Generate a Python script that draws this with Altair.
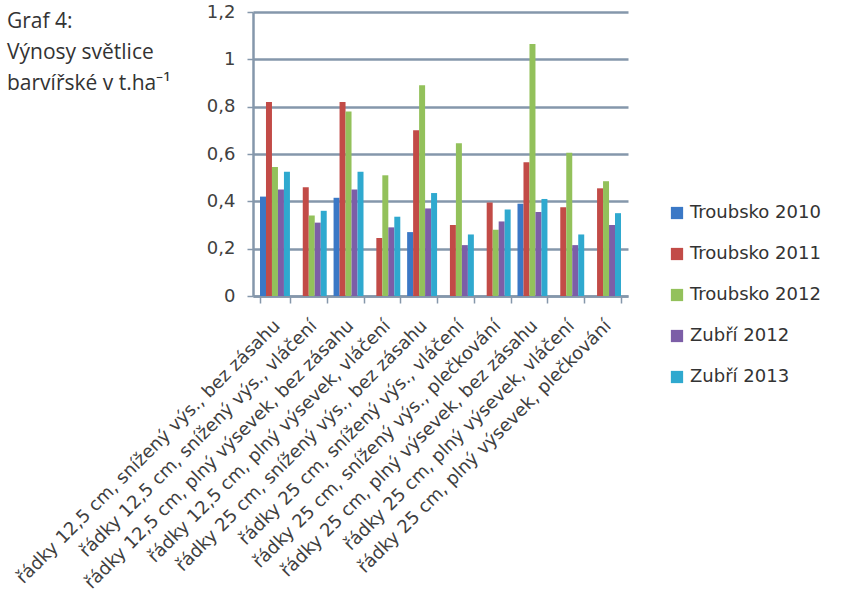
import altair as alt
import pandas as pd

# Treatments (x categories)
categories = [
    "řádky 12,5 cm, snížený výs., bez zásahu",
    "řádky 12,5 cm, snížený výs., vláčení",
    "řádky 12,5 cm, plný výsevek, bez zásahu",
    "řádky 12,5 cm, plný výsevek, vláčení",
    "řádky 25 cm, snížený výs., bez zásahu",
    "řádky 25 cm, snížený výs., vláčení",
    "řádky 25 cm, snížený výs., plečkování",
    "řádky 25 cm, plný výsevek, bez zásahu",
    "řádky 25 cm, plný výsevek, vláčení",
    "řádky 25 cm, plný výsevek, plečkování",
]

series_names = ["Troubsko 2010", "Troubsko 2011", "Troubsko 2012", "Zubří 2012", "Zubří 2013"]
series_colors = ["#3a78c6", "#c24b47", "#93c15b", "#7c5ea7", "#2fa9cf"]

# Yields in t/ha (None = not measured)
troubsko_2010 = [0.42, None, 0.415, None, 0.27, None, None, 0.39, None, None]
troubsko_2011 = [0.82, 0.46, 0.82, 0.245, 0.70, 0.30, 0.395, 0.565, 0.375, 0.455]
troubsko_2012 = [0.545, 0.34, 0.78, 0.51, 0.89, 0.645, 0.28, 1.065, 0.605, 0.485]
zubri_2012 = [0.45, 0.31, 0.45, 0.29, 0.37, 0.215, 0.315, 0.355, 0.215, 0.30]
zubri_2013 = [0.525, 0.36, 0.525, 0.335, 0.435, 0.26, 0.365, 0.41, 0.26, 0.35]

y_ticks = [0, 0.2, 0.4, 0.6, 0.8, 1, 1.2]
title_lines = ["Graf 4:", "Výnosy světlice", "barvířské v t.ha⁻¹"]

rows = []
for name, vals in zip(series_names, [troubsko_2010, troubsko_2011, troubsko_2012, zubri_2012, zubri_2013]):
    for cat, v in zip(categories, vals):
        if v is not None:
            rows.append({"varianta": cat, "rada": name, "vynos": v})
df = pd.DataFrame(rows)

W, H = 375, 284
AXIS_COLOR = "#8597ab"
LABEL_FONT = "DejaVu Sans"

bars = alt.Chart(df).mark_bar().encode(
    x=alt.X(
        "varianta:N",
        sort=categories,
        scale=alt.Scale(domain=categories, paddingInner=0.186, paddingOuter=0.19),
        axis=alt.Axis(
            title=None,
            labelAngle=315,
            labelAlign="right",
            labelBaseline="middle",
            labelFont=LABEL_FONT,
            labelFontSize=18,
            labelColor="#404040",
            labelPadding=20,
            labelOffset=2,
            labelLimit=0,
            tickBand="extent",
            tickOffset=-3.5,
            tickSize=7,
            tickWidth=1.5,
            tickColor=AXIS_COLOR,
            domainColor=AXIS_COLOR,
            domainWidth=2.5,
            grid=False,
        ),
    ),
    xOffset=alt.XOffset(
        "rada:N",
        sort=series_names,
        scale=alt.Scale(domain=series_names, paddingInner=0, paddingOuter=0),
    ),
    y=alt.Y(
        "vynos:Q",
        scale=alt.Scale(domain=[0, 1.2], nice=False),
        axis=alt.Axis(
            title=None,
            values=y_ticks,
            labelExpr="replace(format(datum.value, '~g'), '.', ',')",
            labelFont=LABEL_FONT,
            labelFontSize=18,
            labelColor="#404040",
            labelPadding=12,
            tickSize=6,
            tickWidth=1.5,
            tickColor=AXIS_COLOR,
            domainColor=AXIS_COLOR,
            domainWidth=2.5,
            grid=True,
            gridColor=AXIS_COLOR,
            gridWidth=2.5,
        ),
    ),
    color=alt.Color(
        "rada:N",
        scale=alt.Scale(domain=series_names, range=series_colors),
        legend=alt.Legend(
            title=None,
            orient="none",
            legendX=415,
            legendY=192,
            symbolType="square",
            symbolSize=150,
            symbolStrokeWidth=0,
            labelFont=LABEL_FONT,
            labelFontSize=18,
            labelColor="#333333",
            labelOffset=4,
            rowPadding=23,
        ),
    ),
)

heading = alt.Chart(pd.DataFrame({"k": [0]})).mark_text(
    text=title_lines,
    align="left",
    baseline="alphabetic",
    font="Open Sans",
    fontSize=21,
    lineHeight=31,
    color="#333333",
).encode(x=alt.value(-246), y=alt.value(16))

chart = alt.layer(bars, heading).properties(
    width=W,
    height=H,
    padding={"left": 253, "top": 12, "right": 847 - 253 - W, "bottom": 596 - 12 - H},
    autosize=alt.AutoSizeParams(type="none"),
    background="white",
).configure_view(stroke=None)

chart.save("out.html", embed_options={"renderer": "svg", "actions": False})
